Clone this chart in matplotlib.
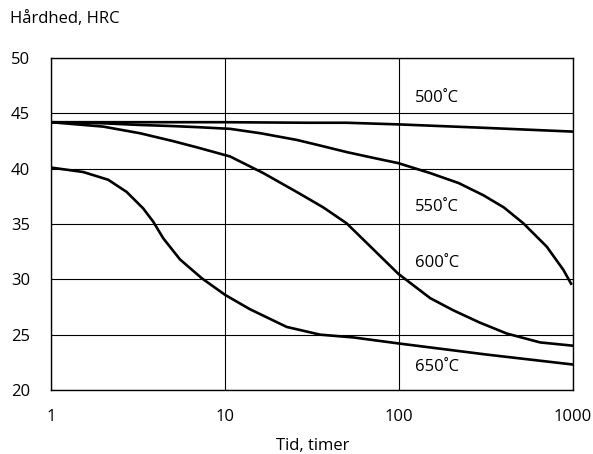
import matplotlib
matplotlib.use("Agg")
import matplotlib.pyplot as plt

plt.rcParams['font.family'] = ['Open Sans', 'DejaVu Sans']

# (time in hours, hardness HRC)
t_500 = [1, 3, 10, 30, 50, 100, 300, 1000]
hrc_500 = [44.2, 44.2, 44.2, 44.15, 44.15, 44.0, 43.7, 43.35]

t_550 = [1, 2, 3.25, 5, 7, 10.7, 16, 25.8, 35, 50, 70, 99, 151, 220, 305, 400, 518, 706, 880, 982]
hrc_550 = [44.2, 44.1, 43.95, 43.85, 43.75, 43.6, 43.2, 42.6, 42.1, 41.5, 41.0, 40.5, 39.6, 38.7, 37.6, 36.5, 35.06, 32.95, 30.85, 29.5]

t_600 = [1, 2, 3.25, 5, 7, 10.7, 16.6, 25.8, 36.7, 50, 68.1, 99, 151, 205, 290, 416, 646, 1000]
hrc_600 = [44.2, 43.8, 43.2, 42.5, 41.9, 41.1, 39.6, 37.9, 36.5, 35.06, 33.0, 30.5, 28.3, 27.2, 26.1, 25.1, 24.3, 24.0]

t_650 = [1, 1.53, 2.13, 2.72, 3.39, 3.87, 4.42, 5.51, 7.35, 10, 13.9, 22.6, 35.2, 54.6, 100, 319, 1000]
hrc_650 = [40.1, 39.7, 39.0, 37.9, 36.4, 35.2, 33.7, 31.8, 30.1, 28.6, 27.3, 25.7, 25.0, 24.75, 24.2, 23.2, 22.3]

labels = ['500˚C', '550˚C', '600˚C', '650˚C']
label_y = [46.4, 36.5, 31.5, 22.1]
label_t = 123

x_ticks = [1, 10, 100, 1000]
y_ticks = [20, 25, 30, 35, 40, 45, 50]

fig = plt.figure(figsize=(5.93, 4.54), dpi=100)
ax = fig.add_axes([0.086, 0.141, 0.8804, 0.7312])

for t, h in [(t_500, hrc_500), (t_550, hrc_550), (t_600, hrc_600), (t_650, hrc_650)]:
    ax.plot(t, h, color='black', lw=1.9, solid_capstyle='butt', solid_joinstyle='round', zorder=3)

for lab, y in zip(labels, label_y):
    ax.text(label_t, y, lab, fontsize=12, va='center', ha='left')

ax.set_xscale('log')
ax.set_xlim(1, 1000)
ax.set_ylim(20, 50)
ax.set_xticks(x_ticks)
ax.set_xticklabels([str(v) for v in x_ticks])
ax.set_yticks(y_ticks)
ax.set_yticklabels([str(v) for v in y_ticks])
ax.minorticks_off()
ax.tick_params(length=0, labelsize=12)
ax.tick_params(axis='y', pad=15)
ax.tick_params(axis='x', pad=14)

# grid
ax.grid(True, color='black', lw=0.8)
ax.set_axisbelow(True)
for s in ax.spines.values():
    s.set_linewidth(1.0)

fig.text(0.017, 0.958, 'Hårdhed, HRC', fontsize=12, va='center', ha='left')
fig.text(0.527, 0.018, 'Tid, timer', fontsize=12, va='center', ha='center')

plt.savefig('out.png', dpi=100)
plt.close()
